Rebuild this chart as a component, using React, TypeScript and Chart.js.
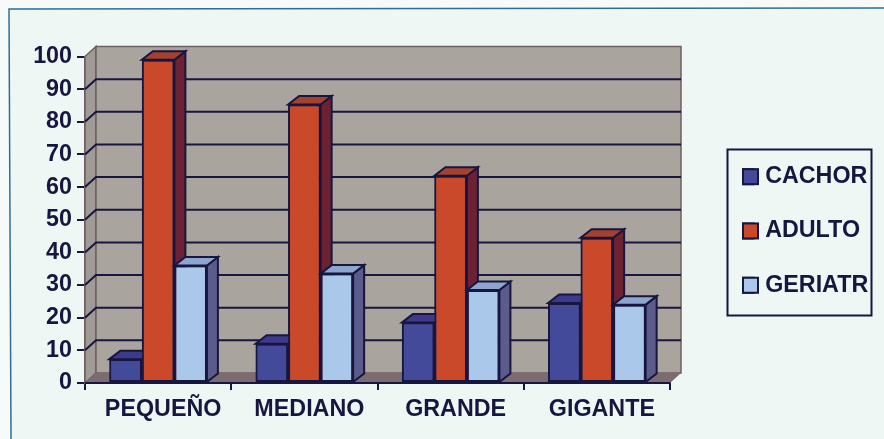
import React, { useEffect, useRef } from "react";
import { Chart, registerables } from "chart.js";

Chart.register(...registerables);

const categories = ["PEQUEÑO", "MEDIANO", "GRANDE", "GIGANTE"];
const cachorValues = [7.3, 12, 18.5, 24.5];
const adultoValues = [99, 85.3, 63.5, 44.5];
const geriatrValues = [36, 33.5, 28.5, 24];
const seriesLabels = ["CACHOR", "ADULTO", "GERIATR"];
const yTicks = [0, 10, 20, 30, 40, 50, 60, 70, 80, 90, 100];

const NAVY = "#17163f";
const FONT = { family: "'Liberation Sans', Arial, sans-serif", size: 23.3, weight: "bold" as const };
const WALL_DX = 11;
const WALL_DY = 10;
const BAR_DX = 11;
const BAR_DY = 8.5;
const sideColors = ["#2e2c6b", "#6d2233", "#5c5c8c"];
const topColors = ["#3d3a8c", "#a4412f", "#8ea6cf"];

function poly(ctx: CanvasRenderingContext2D, pts: number[][], fill: string, stroke?: string, lw = 2) {
  ctx.beginPath();
  pts.forEach((p, i) => (i ? ctx.lineTo(p[0], p[1]) : ctx.moveTo(p[0], p[1])));
  ctx.closePath();
  ctx.fillStyle = fill;
  ctx.fill();
  if (stroke) {
    ctx.strokeStyle = stroke;
    ctx.lineWidth = lw;
    ctx.stroke();
  }
}

const scenePlugin = {
  id: "scene3d",
  beforeDraw(chart: any) {
    const { ctx, width, height } = chart;
    ctx.save();
    ctx.fillStyle = "#f6fbf9";
    ctx.fillRect(0, 0, width, height);
    poly(ctx, [[9, 9], [width, 8], [width, height], [11, height]], "#eff7f5");
    ctx.strokeStyle = "#2f6d96";
    ctx.lineWidth = 1.5;
    ctx.beginPath();
    ctx.moveTo(width, 8);
    ctx.lineTo(9, 9);
    ctx.lineTo(11, height);
    ctx.stroke();
    ctx.restore();
  },
  afterLayout(chart: any) {
    const legend = chart.legend;
    legend.left = 712;
    legend.right = 884;
    legend.top = 134;
    legend.bottom = 439;
  },
  beforeDatasetsDraw(chart: any) {
    const { ctx, chartArea, scales } = chart;
    const { left, right, top, bottom } = chartArea;
    const y = scales.y;
    ctx.save();
    // side wall, back wall, floor
    poly(ctx, [[left, top], [left + WALL_DX, top - WALL_DY], [left + WALL_DX, bottom - WALL_DY], [left, bottom]], "#a19b98", "#6d605e", 1.5);
    poly(ctx, [[left + WALL_DX, top - WALL_DY], [right + WALL_DX, top - WALL_DY], [right + WALL_DX, bottom - WALL_DY], [left + WALL_DX, bottom - WALL_DY]], "#aaa49f", "#6d605e", 1.5);
    poly(ctx, [[left, bottom], [left + WALL_DX, bottom - WALL_DY], [right + WALL_DX, bottom - WALL_DY], [right, bottom]], "#7b6c72");
    // gridlines on the walls
    ctx.strokeStyle = NAVY;
    ctx.lineWidth = 2;
    y.ticks.forEach((t: any) => {
      if (t.value <= 0 || t.value >= 100) return;
      const py = y.getPixelForValue(t.value);
      ctx.beginPath();
      ctx.moveTo(left, py);
      ctx.lineTo(left + WALL_DX, py - WALL_DY);
      ctx.lineTo(right + WALL_DX, py - WALL_DY);
      ctx.stroke();
    });
    ctx.restore();
  },
  afterDatasetsDraw(chart: any) {
    const { ctx, chartArea } = chart;
    ctx.save();
    chart.data.datasets.forEach((_: any, i: number) => {
      chart.getDatasetMeta(i).data.forEach((bar: any) => {
        const l = bar.x - bar.width / 2;
        const r = bar.x + bar.width / 2;
        poly(ctx, [[r, bar.y], [r + BAR_DX, bar.y - BAR_DY], [r + BAR_DX, bar.base - BAR_DY], [r, bar.base]], sideColors[i], NAVY);
        poly(ctx, [[l, bar.y], [l + BAR_DX, bar.y - BAR_DY], [r + BAR_DX, bar.y - BAR_DY], [r, bar.y]], topColors[i], NAVY);
        bar.draw(ctx, chartArea);
      });
    });
    // axis line on the floor edge over the bars' base
    ctx.strokeStyle = NAVY;
    ctx.lineWidth = 2;
    ctx.beginPath();
    ctx.moveTo(chartArea.left, chartArea.bottom);
    ctx.lineTo(chartArea.right, chartArea.bottom);
    ctx.stroke();
    ctx.restore();
  },
  afterDraw(chart: any) {
    const { ctx } = chart;
    const legend = chart.legend;
    const pad = legend.options.labels.padding;
    ctx.save();
    ctx.strokeStyle = NAVY;
    ctx.lineWidth = 2;
    ctx.strokeRect(727.5, 149.5, 144, 166);
    legend.legendItems.forEach((item: any, i: number) => {
      const cy = legend.top + pad + FONT.size / 2 + i * (FONT.size + pad);
      ctx.fillStyle = item.fillStyle;
      ctx.fillRect(legend.left + pad, cy - 7.5, 15, 15);
      ctx.strokeRect(legend.left + pad, cy - 7.5, 15, 15);
    });
    ctx.restore();
  },
};

export default function App() {
  const ref = useRef<HTMLCanvasElement>(null);
  useEffect(() => {
    const chart = new Chart(ref.current!, {
      type: "bar",
      data: {
        labels: categories,
        datasets: [
          { label: seriesLabels[0], data: cachorValues, backgroundColor: "#434a99" },
          { label: seriesLabels[1], data: adultoValues, backgroundColor: "#c9492a" },
          { label: seriesLabels[2], data: geriatrValues, backgroundColor: "#aac9ea" },
        ].map((d) => ({ ...d, borderColor: NAVY, borderWidth: 2, borderSkipped: false })),
      },
      options: {
        responsive: false,
        animation: false,
        layout: { padding: { top: 56.5, right: 214, bottom: 0, left: 0 } },
        datasets: { bar: { categoryPercentage: 0.667, barPercentage: 1 } },
        plugins: {
          tooltip: { enabled: false },
          legend: {
            position: "chartArea",
            align: "start",
            labels: { color: NAVY, font: FONT, boxWidth: 10.5, boxHeight: 15, padding: 31 },
          },
        },
        scales: {
          x: {
            grid: { drawOnChartArea: false, color: NAVY, lineWidth: 2, tickLength: 7 },
            border: { color: NAVY, width: 2 },
            ticks: { color: NAVY, font: FONT, padding: 6, maxRotation: 0, labelOffset: 5 },
            afterFit(s: any) { s.height = 56; },
          },
          y: {
            min: 0,
            max: 100,
            afterBuildTicks(s: any) { s.ticks = yTicks.map((value) => ({ value })); },
            grid: { drawOnChartArea: false, color: NAVY, lineWidth: 2, tickLength: 8 },
            border: { color: "#6d605e", width: 2 },
            ticks: { color: NAVY, font: FONT, padding: 5 },
            afterFit(s: any) { s.width = 85; },
          },
        },
      } as any,
      plugins: [scenePlugin as any],
    });
    return () => chart.destroy();
  }, []);
  return (
    <canvas
      ref={ref}
      width={884}
      height={439}
      style={{ position: "fixed", left: 0, top: 0, display: "block", width: 884, height: 439 }}
    />
  );
}
